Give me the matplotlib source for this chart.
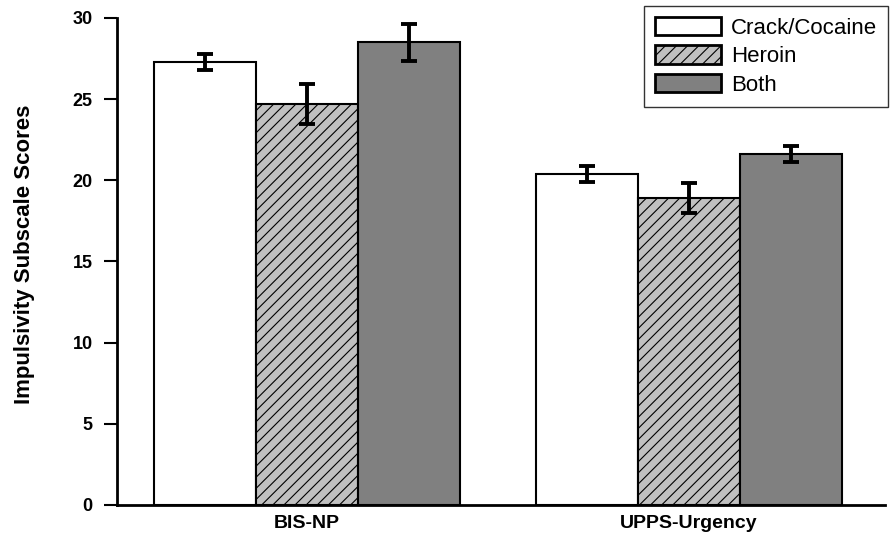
import numpy as np
import matplotlib.pyplot as plt

plt.rcParams['font.family'] = ['Liberation Sans', 'DejaVu Sans']
plt.rcParams['hatch.linewidth'] = 0.8

measures = ['BIS-NP', 'UPPS-Urgency']
groups = ['Crack/Cocaine', 'Heroin', 'Both']
means = {
    'Crack/Cocaine': [27.3, 20.4],
    'Heroin': [24.7, 18.9],
    'Both': [28.5, 21.6],
}
errs = {
    'Crack/Cocaine': [0.5, 0.5],
    'Heroin': [1.25, 0.9],
    'Both': [1.15, 0.5],
}
fills = {'Crack/Cocaine': 'white', 'Heroin': '#c0c0c0', 'Both': '#808080'}
hatches = {'Crack/Cocaine': None, 'Heroin': '///', 'Both': None}

fig = plt.figure(figsize=(8.92, 5.44), dpi=100)
ax = fig.add_axes([0.131, 0.072, 0.861, 0.895])

x = np.arange(len(measures))
w = 0.267
for i, g in enumerate(groups):
    ax.bar(x + (i - 1) * w, means[g], w, color=fills[g], edgecolor='black',
           linewidth=1.5, hatch=hatches[g], label=g, zorder=2)
    ax.errorbar(x + (i - 1) * w, means[g], yerr=errs[g], fmt='none',
                ecolor='black', elinewidth=2.8, capsize=6, capthick=2.8, zorder=3)

ax.set_xlim(-0.497, 1.513)
ax.set_ylim(0, 30)
ax.set_yticks([0, 5, 10, 15, 20, 25, 30])
ax.set_xticks(x)
ax.set_xticklabels(measures, fontsize=14, fontweight='bold')
ax.tick_params(axis='x', length=0, pad=7)
ax.tick_params(axis='y', length=9.5, width=1.5, labelsize=13, direction='out', pad=8)
for lab in ax.get_yticklabels():
    lab.set_fontweight('bold')
ax.set_ylabel('Impulsivity Subscale Scores', fontsize=16, fontweight='bold')
ax.yaxis.set_label_coords(-0.106, 0.515)

ax.spines['top'].set_visible(False)
ax.spines['right'].set_visible(False)
ax.spines['left'].set_linewidth(2)
ax.spines['bottom'].set_linewidth(2)

leg = ax.legend(loc='upper right', bbox_to_anchor=(1.004, 1.025), fontsize=16,
                frameon=True, fancybox=False, edgecolor='black',
                handlelength=2.95, handleheight=0.9, handletextpad=0.45,
                labelspacing=0.3, borderpad=0.5, borderaxespad=0.0)
leg.get_frame().set_linewidth(1.0)
for h in leg.legend_handles:
    h.set_linewidth(2)

fig.savefig('out.png', dpi=100)
